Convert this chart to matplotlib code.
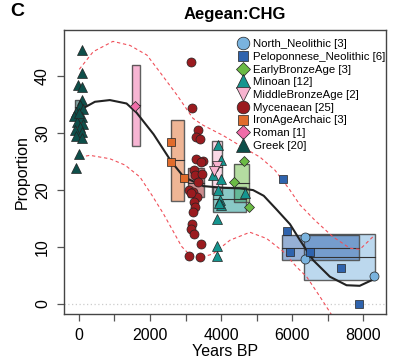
import matplotlib
matplotlib.use("Agg")
import matplotlib.pyplot as plt
from matplotlib.lines import Line2D
from matplotlib.patches import Rectangle

plt.rcParams["font.family"] = ["Liberation Sans", "DejaVu Sans"]

# ---- data ----
north_years = [6360, 6360, 8310]
north_prop = [11.8, 7.9, 4.9]
pelop_years = [5730, 5860, 5940, 6500, 7360, 7890]
pelop_prop = [21.9, 12.8, 9.2, 9.2, 6.3, 0.0]
eba_years = [4650, 4360, 4780]
eba_prop = [25.1, 21.5, 17.0]
minoan_years = [3920, 4010, 3760, 4010, 3970, 3990, 3890, 4670, 3890, 3890, 3900, 3950]
minoan_prop = [27.9, 25.3, 22.6, 21.9, 18.2, 17.4, 15.0, 19.5, 10.1, 8.4, 20.0, 17.8]
mba_years = [3890, 3800]
mba_prop = [24.3, 23.4]
myc_years = [3150, 3180, 3340, 3290, 3400, 3280, 3480, 3430, 3245, 3260, 3450, 3100, 3200,
             3310, 3245, 3265, 3200, 3170, 3140, 3245, 3430, 3095, 3420, 3350, 3150]
myc_prop = [42.5, 34.4, 30.5, 29.4, 29.0, 25.4, 25.1, 24.9, 23.6, 22.6, 22.9, 20.0, 19.7,
            18.8, 17.9, 17.0, 16.2, 14.0, 13.1, 12.3, 10.5, 8.4, 8.2, 21.5, 19.5]
iron_years = [2600, 2590, 2955]
iron_prop = [28.5, 25.0, 22.2]
roman_years = [1576]
roman_prop = [34.7]
greek_years = [93, 93, -20, 93, 76, 28, 104, -84, -141, 76, -65, 104, 28, -113, 76, -84, 76, 0, -84, 8]
greek_prop = [44.6, 40.5, 38.4, 38.1, 35.8, 34.9, 34.3, 33.7, 33.0, 32.8, 32.0, 31.6, 31.1,
              30.5, 30.2, 29.5, 29.2, 26.4, 23.8, 33.5]

# per-group box: (year_min, year_max, prop_low, prop_high)
north_box = (6340, 8330, 4.2, 12.3)
pelop_box = (5720, 7880, 7.7, 12.1)
eba_box = (4350, 4790, 17.9, 24.6)
minoan_box = (3760, 4700, 16.1, 20.6)
mba_box = (3735, 4015, 19.4, 28.6)
myc_box = (3075, 3515, 18.8, 23.8)
iron_box = (2595, 2965, 18.1, 32.3)
roman_box = (1505, 1715, 27.7, 42.0)
greek_box = (-110, 20, 33.5, 35.8)

fit_years = [100, 450, 870, 1340, 1620, 2100, 2600, 2950, 3500, 4060, 4530, 4900, 5200,
             5560, 5940, 6220, 6590, 7060, 7530, 7900, 8280]
fit_prop = [34.3, 35.5, 35.8, 35.2, 33.6, 29.8, 25.0, 22.3, 20.7, 20.4, 20.3, 20.0, 19.0,
            16.6, 14.0, 11.2, 7.7, 4.8, 3.3, 3.2, 4.3]
upper_years = [10, 403, 957, 1435, 1913, 2279, 2757, 3208, 3489, 4052, 4615, 5093, 5515,
               5937, 6218, 6640, 7147, 7625, 7906, 8272]
upper_prop = [41.2, 44.3, 46.1, 45.4, 43.7, 40.7, 36.7, 32.6, 31.4, 29.6, 27.5, 25.8, 23.5,
              20.0, 17.4, 14.7, 11.8, 9.8, 9.6, 11.8]
lower_years = [28, 310, 872, 1294, 1716, 2054, 2372, 2890, 3076, 3405, 3770, 4249, 4811,
               5281, 5750, 6125, 6406, 6781, 7110]
lower_prop = [25.8, 26.1, 25.5, 24.4, 22.3, 19.1, 15.9, 10.1, 8.9, 8.1, 8.8, 11.2, 12.6,
              11.5, 9.2, 6.5, 4.8, 1.3, -1.9]

groups = [
    ("North_Neolithic [3]", north_years, north_prop, north_box, "#7ab3de", "o", 6.5),
    ("Peloponnese_Neolithic [6]", pelop_years, pelop_prop, pelop_box, "#2f63ad", "s", 5.2),
    ("EarlyBronzeAge [3]", eba_years, eba_prop, eba_box, "#6bbb45", "D", 5.3),
    ("Minoan [12]", minoan_years, minoan_prop, minoan_box, "#15958f", "^", 7.0),
    ("MiddleBronzeAge [2]", mba_years, mba_prop, mba_box, "#f7b3cf", "v", 7.0),
    ("Mycenaean [25]", myc_years, myc_prop, myc_box, "#9a1b1f", "o", 6.5),
    ("IronAgeArchaic [3]", iron_years, iron_prop, iron_box, "#e06c2c", "s", 5.2),
    ("Roman [1]", roman_years, roman_prop, roman_box, "#f06ca8", "D", 5.3),
    ("Greek [20]", greek_years, greek_prop, greek_box, "#0e4f4a", "^", 7.0),
]

W, H = 396, 362
fig = plt.figure(figsize=(W / 100, H / 100), dpi=100)
ax = fig.add_axes([64 / W, 1 - 314 / H, (386 - 64) / W, (314 - 30) / H])

ax.axhline(0, color="#cccccc", lw=0.9, ls=(0, (1, 2)), zorder=0)

for label, xs, ys, (x0, x1, y0, y1), col, mk, ms in groups:
    ax.add_patch(Rectangle((x0, y0), x1 - x0, y1 - y0, facecolor=col, alpha=0.5,
                           edgecolor="none", zorder=1))
    ax.add_patch(Rectangle((x0, y0), x1 - x0, y1 - y0, facecolor="none",
                           edgecolor="#444444", lw=1.0, alpha=0.85, zorder=1.1))
    ax.plot([x0, x1], [(y0 + y1) / 2] * 2, color="#333333", lw=0.8, zorder=1.2)

ax.plot(fit_years, fit_prop, color="#222222", lw=1.5, zorder=2)
ax.plot(upper_years, upper_prop, color="#f0505a", lw=0.8, ls=(0, (3, 2.5)), zorder=2)
ax.plot(lower_years, lower_prop, color="#f0505a", lw=0.8, ls=(0, (3, 2.5)), zorder=2)

for label, xs, ys, box, col, mk, ms in groups:
    ax.plot(xs, ys, ls="none", marker=mk, ms=ms, mfc=col, mec="#222222", mew=0.5, zorder=3)

ax.set_xlim(-420, 8640)
ax.set_ylim(-1.75, 48.1)
ax.set_xticks(range(0, 9000, 1000))
ax.set_xticklabels([str(v) if v % 2000 == 0 else "" for v in range(0, 9000, 1000)])
ax.set_yticks([0, 10, 20, 30, 40])
ax.set_yticklabels(["0", "10", "20", "30", "40"], rotation=90, va="center")
ax.tick_params(direction="out", length=5, width=0.9, color="#555555", labelsize=11.5, pad=5)
for s in ax.spines.values():
    s.set_color("#444444")
    s.set_linewidth(1.0)

ax.set_xlabel("Years BP", fontsize=11.5, labelpad=1)
ax.set_ylabel("Proportion", fontsize=11.5, labelpad=4)

handles = [Line2D([], [], ls="none", marker=mk, ms=ms * 1.4, mfc=col, mec="#222222", mew=0.5)
           for label, xs, ys, box, col, mk, ms in groups]
ax.legend(handles, [g[0] for g in groups], loc="upper left", bbox_to_anchor=(0.5376, 0.968),
          frameon=False, fontsize=8.2, handlelength=1.0, handletextpad=0.4, borderpad=0,
          labelspacing=0.24, borderaxespad=0)

fig.text(234.5 / W, 1 - 15 / H, "Aegean:CHG", ha="center", va="center", fontsize=12, fontweight="bold")
fig.text(17 / W, 1 - 12 / H, "C", ha="center", va="center", fontsize=14, fontweight="bold")

fig.savefig("out.png", dpi=100)
